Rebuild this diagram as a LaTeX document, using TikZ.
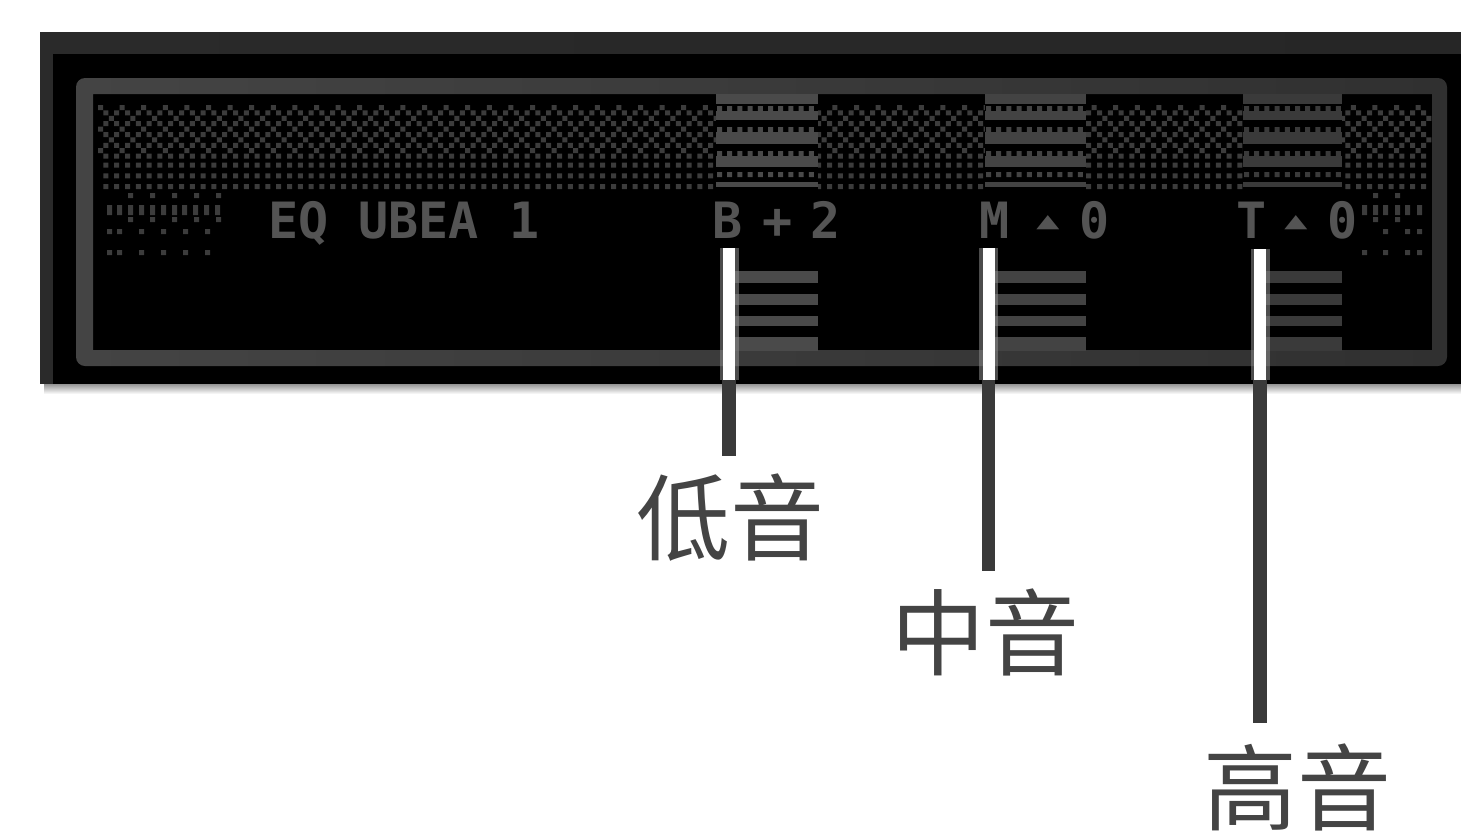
\documentclass[tikz,border=0pt]{standalone}
\usepackage{graphicx}
\usepackage{fontspec}
\newfontfamily\cjk{Noto Sans CJK SC}
\newfontfamily\lcdfont{DejaVu Sans Mono}
\newfontfamily\symfont{DejaVu Sans}
\definecolor{dotc}{HTML}{3C3C3C}
\definecolor{barB}{HTML}{4A4A4A}
\definecolor{barM}{HTML}{434343}
\definecolor{barT}{HTML}{3A3A3A}
\definecolor{frameL}{HTML}{444444}
\definecolor{frameM}{HTML}{4C4C4C}
\definecolor{frameR}{HTML}{303030}
\definecolor{outerL}{HTML}{2A2A2A}
\definecolor{outerM}{HTML}{434343}
\definecolor{outerR}{HTML}{262626}
\definecolor{lcdtxt}{HTML}{545454}
\definecolor{leadc}{HTML}{3A3A3A}
\definecolor{labelc}{HTML}{444444}
\newcommand\lcdbump{\raisebox{11pt}{\symfont\fontsize{30}{30}\selectfont\scalebox{1}[0.62]{▲}}}
\tikzset{
  lcdtext/.style={font=\lcdfont\bfseries\fontsize{50}{50}\selectfont, text=lcdtxt, inner sep=0pt, anchor=base west},
  cjklabel/.style={font=\cjk\fontsize{94}{94}\selectfont, text=labelc, inner sep=0pt, anchor=base},
  glowline/.style={line width=19pt, draw=white!55!black, draw opacity=0.55},
  whiteline/.style={line width=12pt, draw=white},
  leader/.style={line width=13.5pt, draw=leadc},
}
\begin{document}
\begin{tikzpicture}[x=1pt,y=-1pt]
\fill[white] (0,0) rectangle (1461,833);
\useasboundingbox (0,0) rectangle (1461,833);
% shadow under the panel
\shade[top color=black!50, bottom color=white] (44,382) rectangle (1461,394);
% panel body
\fill[black] (40,32) rectangle (1461,384);
\shade[left color=outerL, middle color=outerM, right color=outerR] (40,32) rectangle (1461,53);
\fill[outerL] (40,32) rectangle (53,384);
% inner rounded frame
\shade[left color=frameL, middle color=frameM, right color=frameR, even odd rule]
  [rounded corners=9pt] (76,78) rectangle (1447,366) [sharp corners] (93,94) rectangle (1432,350);
% dot matrix: checker rows
\fill[dotc]
  \foreach \yy in {110.4,121.2,132,142.8,153.6,162.5,173.3,184.1} {
    \foreach \i in {0,...,122} { ({103.4+10.8*\i},\yy) rectangle ++(5,5) }
  }
  \foreach \yy in {105,126.6,148.2} {
    \foreach \i in {0,...,61} { ({98+21.6*\i},\yy) rectangle ++(5,5) }
  }
  \foreach \yy in {115.8,137.4} {
    \foreach \i in {0,...,61} { ({108.8+21.6*\i},\yy) rectangle ++(5,5) }
  };
% bar regions
\foreach \xs/\xe/\xl/\cc in {716/818/729/barB, 985/1086/988/barM, 1243/1342/1256/barT} {
  \fill[black] (\xs,94) rectangle (\xe,196);
  \fill[\cc] (\xs,94) rectangle (\xe,104);
  \fill[\cc] (\xs,111) rectangle (\xe,120);
  \fill[\cc] (\xs,132) rectangle (\xe,144);
  \fill[\cc] (\xs,156) rectangle (\xe,167);
  \fill[\cc] (\xs,182) rectangle (\xe,187);
  \fill[\cc] \foreach \i in {0,...,9} {
      ({\xs+1+10.2*\i},106) rectangle ++(5,5)
      ({\xs+1+10.2*\i},127) rectangle ++(5,5)
      ({\xs+1+10.2*\i},151) rectangle ++(5,5)
      ({\xs+1+10.2*\i},172) rectangle ++(5,5) };
  % lower bars
  \fill[\cc] (\xl,271) rectangle (\xe,283);
  \fill[\cc] (\xl,294) rectangle (\xe,305);
  \fill[\cc] (\xl,316) rectangle (\xe,326);
  \fill[\cc] (\xl,337) rectangle (\xe,351);
}
% small dot decorations
\fill[dotc]
  \foreach \xx in {128,150,172,194,216} { (\xx,193) rectangle ++(5,5) (\xx,217) rectangle ++(5,5) }
  \foreach \xx in {107,117,128,139,150,161,172,182,193,204,215} { (\xx,205) rectangle ++(5,10) }
  \foreach \xx in {107,117,139,161,183,205} { (\xx,229) rectangle ++(5,5) (\xx,250) rectangle ++(5,5) }
  \foreach \xx in {1373,1395} { (\xx,193) rectangle ++(5,5) (\xx,217) rectangle ++(5,5) }
  \foreach \xx in {1362,1373,1383,1395,1405,1417} { (\xx,205) rectangle ++(5,10) }
  \foreach \xx in {1383,1405,1417} { (\xx,229) rectangle ++(5,5) }
  \foreach \xx in {1362,1383,1405,1417} { (\xx,250) rectangle ++(5,5) };
% display texts
\node[lcdtext] (eq) at (268,238) {EQ UBEA 1};
\node[lcdtext] (bval) at (712,238) {B\hspace{20pt}+\hspace{18pt}2};
\node[lcdtext] (mval) at (979,238) {M\hspace{27pt}\lcdbump\hspace{20pt}0};
\node[lcdtext] (tval) at (1236,238) {T\hspace{18pt}\lcdbump\hspace{20pt}0};
% labels
\node[cjklabel] (bass) at (730,553) {低音};
\node[cjklabel] (mid) at (985.5,668) {中音};
\node[cjklabel] (treb) at (1297,823) {高音};
% leader lines
\coordinate (bTop) at (729,248);
\coordinate (bEdge) at (729,380);
\coordinate (mTop) at (988.5,248);
\coordinate (mEdge) at (988.5,380);
\coordinate (tTop) at (1260,249);
\coordinate (tEdge) at (1260,380);
\foreach \p in {b,m,t} {
  \draw[glowline] (\p Top) -- (\p Edge);
  \draw[whiteline] (\p Top) -- (\p Edge);
}
\draw[leader, shorten >=17pt] (bEdge) -- (bEdge |- bass.north);
\draw[leader, shorten >=17pt] (mEdge) -- (mEdge |- mid.north);
\draw[leader, shorten >=20pt] (tEdge) -- (tEdge |- treb.north);
\end{tikzpicture}
\end{document}
